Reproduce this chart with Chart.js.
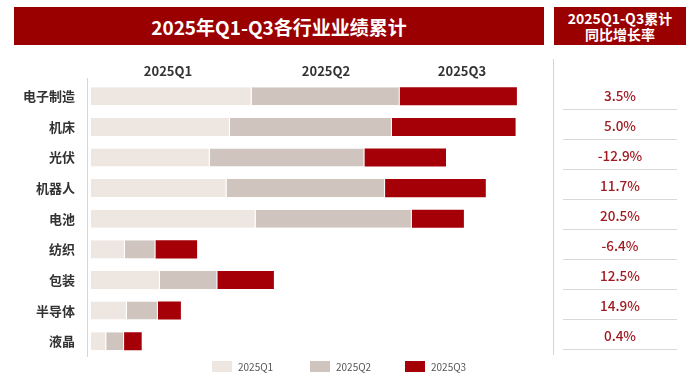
<!DOCTYPE html>
<html>
<head>
<meta charset="utf-8">
<script src="https://cdn.jsdelivr.net/npm/chart.js@4/dist/chart.umd.min.js"></script>
<style>
  html, body { margin: 0; padding: 0; background: #ffffff; }
  #wrap { position: relative; width: 689px; height: 374px; overflow: hidden;
          font-family: "Noto Sans CJK SC", "Noto Sans", sans-serif; }
  #chart { position: absolute; left: 0; top: 0; }
  .hdr { position: absolute; background: #9a0000; color: #fff; font-weight: 700;
         display: flex; align-items: center; justify-content: center; text-align: center; }
  #title { left: 14px; top: 7px; width: 530px; height: 38px; font-size: 19px; }
  #subhdr { left: 554px; top: 7px; width: 132px; height: 38px; font-size: 14px; line-height: 16px; }
  .col { position: absolute; top: 61px; font-size: 13px; font-weight: 600; color: #333;
         transform: translateX(-50%); white-space: nowrap; }
  .vline { position: absolute; width: 1px; background: #d6d6d6; }
  .pct { position: absolute; left: 563px; width: 114px; height: 30px; text-align: center;
         font-size: 13.5px; font-weight: 500; color: #a11a22; box-sizing: border-box;
         border-bottom: 1px solid #d9d9d9; line-height: 30px; }
  #legend { position: absolute; top: 361px; left: 0; height: 11px; }
  .lg { position: absolute; top: 0; height: 11px; display: flex; align-items: center; white-space: nowrap;
        font-size: 10px; color: #555; }
  .lg i { display: inline-block; width: 20px; height: 11px; margin-right: 6px; }
</style>
</head>
<body>
<div id="wrap">
  <canvas id="chart" width="689" height="374"></canvas>
  <div class="hdr" id="title">2025年Q1-Q3各行业业绩累计</div>
  <div class="hdr" id="subhdr">2025Q1-Q3累计<br>同比增长率</div>
  <div class="vline" style="left:87px; top:78px; height:279px;"></div>
  <div class="vline" style="left:553px; top:59px; height:296px;"></div>
  <div id="cols"></div>
  <div id="table"></div>
  <div id="legend"></div>
</div>
<script>
// Industries, top to bottom
const categories = ['电子制造', '机床', '光伏', '机器人', '电池', '纺织', '包装', '半导体', '液晶'];

// Quarterly results per industry (stacked: Q1, Q2, Q3)
const q1Values = [160.6, 138.9, 118.7, 135.5, 164.6, 33.8, 68.9, 35.8, 15.2];
const q2Values = [148.1, 162.0, 154.8, 158.6, 156.2, 30.7, 57.5, 31.1, 17.9];
const q3Values = [117.2, 123.7, 81.5, 100.7, 52.1, 41.6, 56.5, 23.0, 17.6];

// Year-over-year growth of the Q1-Q3 cumulative total, in percent
const growthPct = [3.5, 5.0, -12.9, 11.7, 20.5, -6.4, 12.5, 14.9, 0.4];

const seriesNames = ['2025Q1', '2025Q2', '2025Q3'];
const seriesColors = ['#eee6e0', '#cfc5be', '#a50008'];

// Column captions above the bars
const colCaptionX = [168, 326, 462];
const cols = document.getElementById('cols');
seriesNames.forEach((name, i) => {
  const d = document.createElement('div');
  d.className = 'col';
  d.style.left = colCaptionX[i] + 'px';
  d.textContent = name;
  cols.appendChild(d);
});

// Growth table on the right
const table = document.getElementById('table');
growthPct.forEach((v, i) => {
  const d = document.createElement('div');
  d.className = 'pct';
  d.style.top = (80 + 30 * i) + 'px';
  d.textContent = v.toFixed(1) + '%';
  table.appendChild(d);
});

// Legend
const legendX = [212, 310, 405];
const legend = document.getElementById('legend');
seriesNames.forEach((name, i) => {
  const d = document.createElement('div');
  d.className = 'lg';
  d.style.left = legendX[i] + 'px';
  const sw = document.createElement('i');
  sw.style.background = seriesColors[i];
  d.appendChild(sw);
  d.appendChild(document.createTextNode(name));
  legend.appendChild(d);
});

const seriesValues = [q1Values, q2Values, q3Values];

new Chart(document.getElementById('chart'), {
  type: 'bar',
  data: {
    labels: categories,
    datasets: seriesValues.map((vals, i) => ({
      label: seriesNames[i],
      data: vals,
      backgroundColor: seriesColors[i],
      borderColor: '#ffffff',
      borderWidth: i < 2 ? { left: 0, right: 1, top: 0, bottom: 0 } : 0,
      borderSkipped: false,
      barPercentage: 0.59,
      categoryPercentage: 1.0
    }))
  },
  options: {
    indexAxis: 'y',
    responsive: false,
    animation: false,
    devicePixelRatio: 1,
    layout: { padding: { top: 81, bottom: 17.5, left: 0, right: 138 } },
    plugins: {
      legend: { display: false },
      tooltip: { enabled: false }
    },
    scales: {
      x: {
        stacked: true,
        min: 0,
        max: 460,
        display: false
      },
      y: {
        stacked: true,
        grid: { display: false, drawTicks: false },
        border: { display: false },
        afterFit: (scale) => {
          scale.width = 91;
          scale.paddingTop = 0;
          scale.paddingBottom = 0;
        },
        ticks: {
          padding: 16,
          color: '#333333',
          font: { family: '"Noto Sans CJK SC", sans-serif', size: 13, weight: '700' }
        }
      }
    }
  }
});
</script>
</body>
</html>
